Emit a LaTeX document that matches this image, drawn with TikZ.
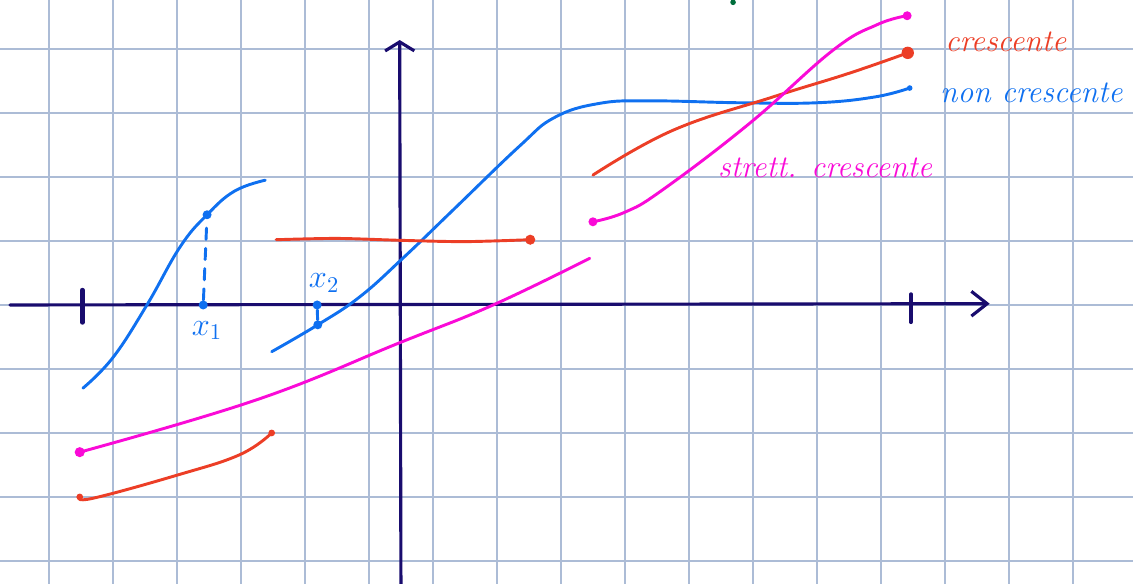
\documentclass[tikz,border=0pt]{standalone}
\usepackage{tikz}
\usetikzlibrary{arrows.meta,positioning,calc}
\definecolor{inkblue}{RGB}{15,112,240}
\definecolor{inkred}{RGB}{236,62,38}
\definecolor{inkpink}{RGB}{250,10,215}
\definecolor{inknavy}{RGB}{25,12,110}
\definecolor{gridblue}{RGB}{172,188,214}
\definecolor{inkgreen}{RGB}{0,110,60}

\begin{document}
\begin{tikzpicture}[
        gridline/.style={
            draw=gridblue,
            line width=0.8pt
        },
        axis/.style={
            draw=inknavy,
            line width=1.4pt,
            line cap=round
        },
        axistick/.style={
            draw=inknavy,
            line width=2.2pt,
            line cap=round
        },
        pen/.style={
            line width=1.3pt,
            line cap=round,
            line join=round
        },
        dot/.style={
            circle,
            minimum size=4pt,
            inner sep=0pt
        },
        note/.style={
            font=\fontsize{14}{16}\selectfont\itshape,
            inner sep=0pt
        }
    ]
        \useasboundingbox (-0.766,-4.36) rectangle (16.94,4.766);

        % Squared paper
        \draw[gridline] (-0.766,-4.36) grid (16.94,4.766);

        % Axes
        \coordinate (xl) at (-0.61,0);
        \coordinate (xr) at (14.70,0.02);
        \coordinate (yb) at (5.50,-4.50);
        \coordinate (yt) at (5.48,4.14);
        \draw[axis, -{Straight Barb[length=7pt,width=11pt]}] (xl) -- (xr);
        \draw[axis, -{Straight Barb[length=4pt,width=13pt]}] (yb) -- (yt);
        \draw[axistick] (0.52,0.23) -- (0.52,-0.27);
        \draw[axistick, line width=1.6pt] (13.47,0.17) -- (13.47,-0.27);

        % Dots
        \node[dot, fill=inkblue] (p1) at (2.47,1.41) {};
        \node[dot, fill=inkblue] (f1) at (2.41,0) {};
        \node[dot, fill=inkblue] (p2) at (4.20,-0.31) {};
        \node[dot, fill=inkblue] (f2) at (4.19,0) {};
        \node[dot, fill=inkblue, minimum size=2.5pt] (b2) at (13.45,3.39) {};
        \node[dot, fill=inkred, minimum size=4.5pt] (r1) at (7.52,1.02) {};
        \node[dot, fill=inkred, minimum size=3pt] (r2) at (0.48,-3.00) {};
        \node[dot, fill=inkred, minimum size=3pt] (r3) at (3.48,-2.00) {};
        \node[dot, fill=inkred, minimum size=5.5pt] (r4) at (13.42,3.94) {};
        \node[dot, fill=inkpink, minimum size=4.5pt] (m1) at (0.48,-2.30) {};
        \node[dot, fill=inkpink, minimum size=4pt] (m2) at (8.50,1.30) {};
        \node[dot, fill=inkpink, minimum size=4pt] (m3) at (13.41,4.52) {};
        \node[dot, fill=inkgreen, minimum size=2.5pt] (g1) at (10.69,4.73) {};

        % Blue curves
        \draw[pen, inkblue] plot[smooth, tension=0.7] coordinates {(0.53,-1.30) (1.00,-0.82) (1.53,0.0) (2.05,0.91) (2.47,1.41) (2.90,1.78) (3.38,1.95)};
        \draw[pen, inkblue] plot[smooth, tension=0.7] coordinates {(3.48,-0.73) (4.20,-0.31) (4.86,0.13) (5.55,0.75) (6.31,1.48) (7.35,2.48) (7.90,2.93) (8.60,3.15) (9.40,3.19) (10.80,3.16) (12.00,3.16) (12.90,3.25) (13.45,3.39)};
        \draw[pen, inkblue, dash pattern=on 5pt off 4pt] (f1) -- (p1);
        \draw[pen, inkblue] (f2) -- (p2);

        % Red curves
        \draw[pen, inkred] plot[smooth] coordinates {(3.55,1.02) (4.50,1.04) (5.50,1.01) (6.50,0.99) (7.52,1.02)};
        \draw[pen, inkred] plot[smooth, tension=0.7] coordinates {(0.48,-3.00) (0.69,-3.02) (2.00,-2.66) (2.98,-2.34) (3.48,-2.00)};
        \draw[pen, inkred] plot[smooth, tension=0.7] coordinates {(8.50,2.03) (9.75,2.73) (11.31,3.25) (12.50,3.62) (13.42,3.94)};

        % Pink curves
        \draw[pen, inkpink] plot[smooth, tension=0.7] coordinates {(0.48,-2.30) (3.25,-1.48) (5.48,-0.59) (6.94,0) (8.45,0.73)};
        \draw[pen, inkpink] plot[smooth, tension=0.7] coordinates {(8.50,1.30) (9.00,1.45) (9.59,1.80) (10.95,2.84) (12.25,3.98) (12.94,4.38) (13.41,4.52)};

        % Labels
        \node[note, text=inkblue] (x1) at (2.47,-0.40) {$x_1$};
        \node[note, text=inkblue] (x2) at (4.30,0.34) {$x_2$};
        \node[note, text=inkred, anchor=west] (cr) at (14.00,4.11) {crescente};
        \node[note, text=inkblue, anchor=west] (ncr) at (13.92,3.31) {non crescente};
        \node[note, text=inkpink, anchor=west] (scr) at (10.45,2.14) {strett. crescente};
    \end{tikzpicture}
\end{document}
